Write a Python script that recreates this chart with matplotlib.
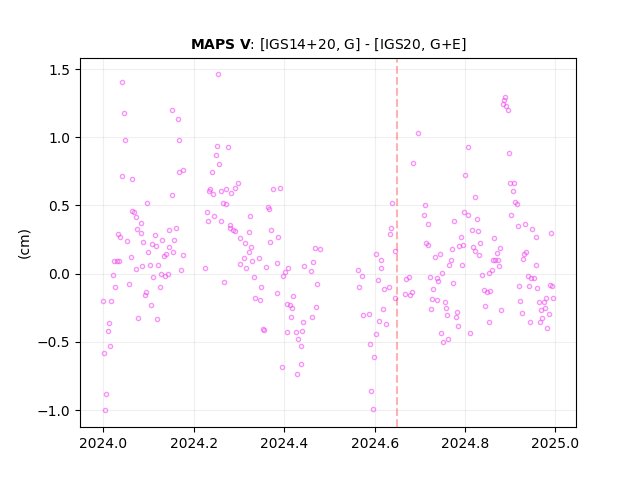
import numpy as np
import matplotlib
matplotlib.use("Agg")
import matplotlib.pyplot as plt

t_frac = [
.042,.046,.048,.040,.064,.097,.062,.068,.073,.084,.075,.082,.031,.037,.053,.088,.115,.108,.117,.130,
.144,.157,.146,.161,.099,.133,.139,.154,.175,.060,.024,.029,.035,.086,.104,.121,.071,.172,.128,.142,
.135,.110,.020,.057,.026,.126,.095,.092,.000,.017,.106,.077,.119,.013,.011,.015,.002,.006,.004,.151,
.164,.166,.168,.177,.152,
.254,.252,.276,.248,.256,.241,.298,.292,.236,.234,.272,.259,.243,.283,.374,.391,.265,.270,.363,.367,
.230,.245,.325,.232,.261,.281,.279,.287,.290,.323,.371,.387,.303,.369,.314,.327,.321,.467,.478,.312,
.345,.329,.464,.301,.383,.444,.360,.316,.409,.402,.460,.225,.398,.334,.267,.349,.473,.385,.420,.336,
.347,.405,.413,.418,.471,.416,.462,.442,.352,.356,.407,.427,.440,.431,.436,.438,.396,.429,
.697,.686,.639,.712,.710,.717,.637,.635,.714,.719,.644,.604,.613,.615,.564,.573,.608,.566,.621,.632,
.646,.619,.575,.588,.610,.626,.602,.590,.599,.593,.597,
.670,.677,.723,.737,.741,.750,.730,.774,.668,.679,.683,.728,.739,.725,.756,.759,.761,.783,.781,.785,
.747,.752,.763,.812,.734,.745,.765,.770,.772,.794,.787,.796,.792,.776,.798,.807,.801,.807,
.889,.887,.885,.891,.896,.898,.900,.909,.907,.823,.911,.914,.902,.827,.918,.933,.949,.816,.829,.991,
.956,.865,.834,.818,.821,.832,.878,.871,.936,.931,.929,.863,.867,.874,.958,.876,.860,.854,.838,.940,
.947,.953,.920,.942,.960,.989,.993,.841,.849,.856,.980,.995,.922,.964,.975,.845,.969,.977,.880,.925,
.986,.971,.852,.944,.966,.982,
]
offset_cm = [
1.402,1.175,.977,.713,.691,.515,.457,.449,.413,.369,.325,.295,.288,.266,.237,.229,.281,.215,.200,.244,
.193,.244,.317,.332,.156,.127,.141,.156,.134,.120,.090,.090,.090,.054,.061,.061,.032,.024,-.005,-.005,
-.020,-.027,-.012,-.078,-.100,-.100,-.137,-.159,-.203,-.203,-.232,-.328,-.335,-.364,-.423,-.533,-.584,-.885,-1.002,1.197,
1.131,.977,.743,.757,.574,
1.461,.933,.926,.867,.801,.743,.662,.625,.618,.603,.618,.603,.581,.589,.618,.625,.515,.508,.486,.471,
.449,.420,.420,.383,.383,.354,.332,.317,.310,.303,.317,.266,.259,.229,.222,.193,.156,.185,.178,.112,
.112,.090,.083,.068,.076,.054,.046,.039,.039,.010,.017,.039,-.020,-.027,-.064,-.100,-.078,-.144,-.166,-.181,
-.196,-.225,-.232,-.254,-.247,-.320,-.320,-.357,-.408,-.416,-.430,-.430,-.423,-.482,-.533,-.665,-.687,-.738,
1.029,.809,.515,.501,.427,.361,.332,.288,.222,.207,.163,.141,.097,.039,.024,-.020,-.049,-.100,-.115,-.100,
-.181,-.262,-.306,-.298,-.350,-.365,-.445,-.518,-.614,-.863,-.995,
-.042,-.027,-.027,-.034,-.056,.002,-.115,-.071,-.152,-.159,-.137,-.188,-.196,-.262,-.210,-.254,-.306,-.284,-.320,-.386,
-.438,-.504,-.482,-.438,.119,.141,.061,.097,.178,.061,.200,.207,.266,.383,.449,.427,.721,.926,
1.293,1.273,1.241,1.229,1.197,.882,.662,.662,.603,.559,.523,.508,.427,.398,.347,.361,.325,.317,.310,.295,
.266,.259,.222,.193,.163,.134,.185,.149,.156,.141,.105,.097,.097,.097,.061,.054,.024,.002,-.012,-.020,
-.034,-.034,-.093,-.093,-.108,-.086,-.093,-.122,-.137,-.130,-.181,-.181,-.203,-.210,-.210,-.240,-.269,-.254,-.269,-.291,
-.298,-.328,-.357,-.357,-.357,-.401,
]
event_year = 2024.6485
title_bold = "MAPS\\ V"
title_rest = ": [IGS14+20, G] - [IGS20, G+E]"
y_label = "(cm)"

t = 2024 + np.array(t_frac)
y = np.array(offset_cm)

fig, ax = plt.subplots(figsize=(6.4, 4.8), dpi=100)
ax.plot(t, y, linestyle="none", marker="o", ms=3.0, mfc="none", mew=1.0,
        mec="#f040f0", alpha=0.55)
ax.axvline(event_year, color="red", ls="--", lw=1.5, alpha=0.3)
ax.grid(True, color="#b0b0b0", lw=0.8, alpha=0.2)
ax.set_axisbelow(True)
ax.set_xlim(2023.948, 2025.0456)
ax.set_ylim(-1.125, 1.584)
ax.set_ylabel(y_label)
ax.set_title(f"$\\bf{{{title_bold}}}$" + title_rest, fontsize=10)
ax.ticklabel_format(useOffset=False, axis="x")
fig.savefig("out.png", dpi=100)
